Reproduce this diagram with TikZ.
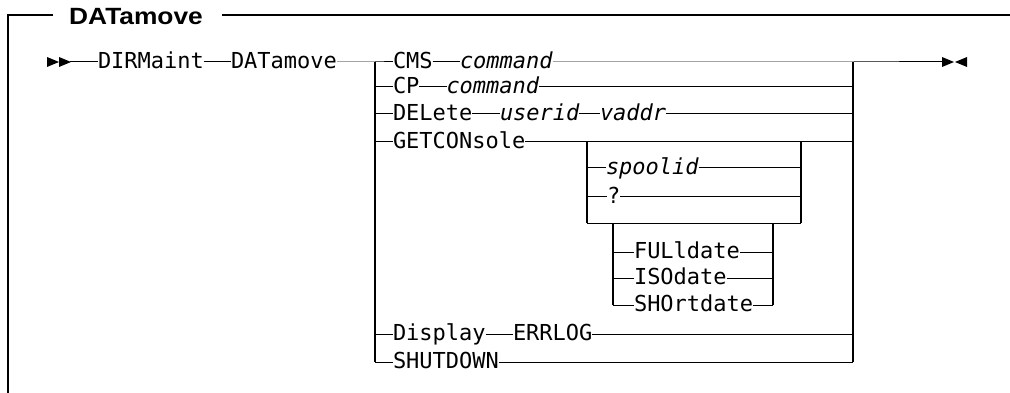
\documentclass[tikz,border=0pt]{standalone}
\usepackage{fontspec}
\newfontfamily\dmono{DejaVu Sans Mono}
\newfontfamily\ttlfont[FakeStretch=1.12]{Liberation Sans}
\begin{document}
\begin{tikzpicture}[x=1pt,y=-1pt,
  kw/.style={inner sep=0pt, outer sep=0pt, anchor=west, text height=17pt, text depth=3.8pt,
    font=\dmono\fontsize{22}{26}\selectfont},
  var/.style={kw, font=\dmono\itshape\fontsize{22}{26}\selectfont},
  rail/.style={line width=1pt},
  vrail/.style={line width=1.5pt},
  endmark/.style={fill=black}
]
\useasboundingbox (0,0) rectangle (1010,393);

% frame
\node[anchor=base west, inner sep=0pt, font=\ttlfont\bfseries\fontsize{23.5}{28}\selectfont] (title) at (69,25) {DATamove};
\draw[line width=1.3pt] (53,15) -- (7.5,15);
\draw[line width=1.3pt] (222,15) -- (1010,15);
\draw[line width=2pt] (8,14.35) -- (8,393);

% row coordinates
\def\ya{62}\def\yb{87}\def\yc{113.5}\def\yd{141.5}\def\ye{168}\def\yf{197}
\def\yg{223}\def\yh{252}\def\yi{278}\def\yj{305}\def\yk{334}\def\yl{362}

% markers
\fill[endmark] (47,57) -- (47,67) -- (59,62) -- cycle;
\fill[endmark] (59,57) -- (59,67) -- (71,62) -- cycle;
\fill[endmark] (942,57) -- (942,67) -- (954,62) -- cycle;
\fill[endmark] (967,57) -- (967,67) -- (955,62) -- cycle;
\coordinate (start) at (70,\ya);
\coordinate (stop) at (943,\ya);

% main nodes
\node[kw] (dirm) at (98,\ya) {DIRMaint};
\node[kw] (datm) at (231,\ya) {DATamove};

% left/right rails
\coordinate (L0) at (375,\ya);  \coordinate (R0) at (853,\ya);
\coordinate (L1) at (375,\yb);  \coordinate (R1) at (853,\yb);
\coordinate (L2) at (375,\yc);  \coordinate (R2) at (853,\yc);
\coordinate (L3) at (375,\yd);  \coordinate (R3) at (853,\yd);
\coordinate (L10) at (375,\yk); \coordinate (R10) at (853,\yk);
\coordinate (L11) at (375,\yl); \coordinate (R11) at (853,\yl);

% branch texts
\node[kw]  (cms)   at (393,\ya) {CMS};
\node[var] (cmda)  at (460,\ya) {command};
\node[kw]  (cp)    at (393,\yb) {CP};
\node[var] (cmdb)  at (446.5,\yb) {command};
\node[kw]  (del)   at (393,\yc) {DELete};
\node[var] (usr)   at (500,\yc) {userid};
\node[var] (vad)   at (600,\yc) {vaddr};
\node[kw]  (getc)  at (393,\yd) {GETCONsole};
\node[kw]  (disp)  at (393,\yk) {Display};
\node[kw]  (errl)  at (513,\yk) {ERRLOG};
\node[kw]  (shut)  at (393,\yl) {SHUTDOWN};

% inner group 1
\coordinate (IL3) at (587,\yd); \coordinate (IR3) at (801,\yd);
\coordinate (IL4) at (587,\ye); \coordinate (IR4) at (801,\ye);
\coordinate (IL5) at (587,\yf); \coordinate (IR5) at (801,\yf);
\coordinate (IL6) at (587,\yg); \coordinate (IR6) at (801,\yg);
\node[var] (spool) at (606,\ye) {spoolid};
\node[kw]  (qm)    at (607,\yf) {?};

% inner group 2
\coordinate (DL6) at (613,\yg); \coordinate (DR6) at (773,\yg);
\coordinate (DL7) at (613,\yh); \coordinate (DR7) at (773,\yh);
\coordinate (DL8) at (613,\yi); \coordinate (DR8) at (773,\yi);
\coordinate (DL9) at (613,\yj); \coordinate (DR9) at (773,\yj);
\node[kw] (full)  at (634,\yh) {FULldate};
\node[kw] (iso)   at (634,\yi) {ISOdate};
\node[kw] (short) at (634,\yj) {SHOrtdate};

% main line
\draw[rail] (start) -- (dirm.west);
\draw[rail] (dirm.east) -- (datm.west);
\draw[rail] (datm.east) -- (L0) -- (cms.west);
\draw[rail] (cms.east) -- (cmda.west);
\draw[rail] (cmda.east) -- (R0) -- (stop);

% verticals
\draw[vrail] (L0) -- (L11);
\draw[vrail] (R0) -- (R11);
\draw[rail] (L11) -- (shut.west);
\draw[rail] (shut.east) -- (R11);

% rows
\draw[rail] (L1) -- (cp.west);
\draw[rail] (cp.east) -- (cmdb.west);
\draw[rail] (cmdb.east) -- (R1);
\draw[rail] (L2) -- (del.west);
\draw[rail] (del.east) -- (usr.west);
\draw[rail] (usr.east) -- (vad.west);
\draw[rail] (vad.east) -- (R2);
\draw[rail] (L3) -- (getc.west);
\draw[rail] (getc.east) -- (IL3) -- (IR3) -- (R3);
\draw[rail] (L10) -- (disp.west);
\draw[rail] (disp.east) -- (errl.west);
\draw[rail] (errl.east) -- (R10);

% group 1
\draw[vrail] (IL3) -- (IL6);
\draw[vrail] (IR3) -- (IR6);
\draw[rail] (IL6) -- (IR6);
\draw[rail] (IL4) -- (spool.west);
\draw[rail] (spool.east) -- (IR4);
\draw[rail] (IL5) -- (qm.west);
\draw[rail] (qm.east) -- (IR5);

% group 2
\draw[vrail] (DL6) -- (DL9);
\draw[vrail] (DR6) -- (DR9);
\draw[rail] (DL7) -- (full.west);
\draw[rail] (full.east) -- (DR7);
\draw[rail] (DL8) -- (iso.west);
\draw[rail] (iso.east) -- (DR8);
\draw[rail] (DL9) -- (short.west);
\draw[rail] (short.east) -- (DR9);
\end{tikzpicture}
\end{document}
